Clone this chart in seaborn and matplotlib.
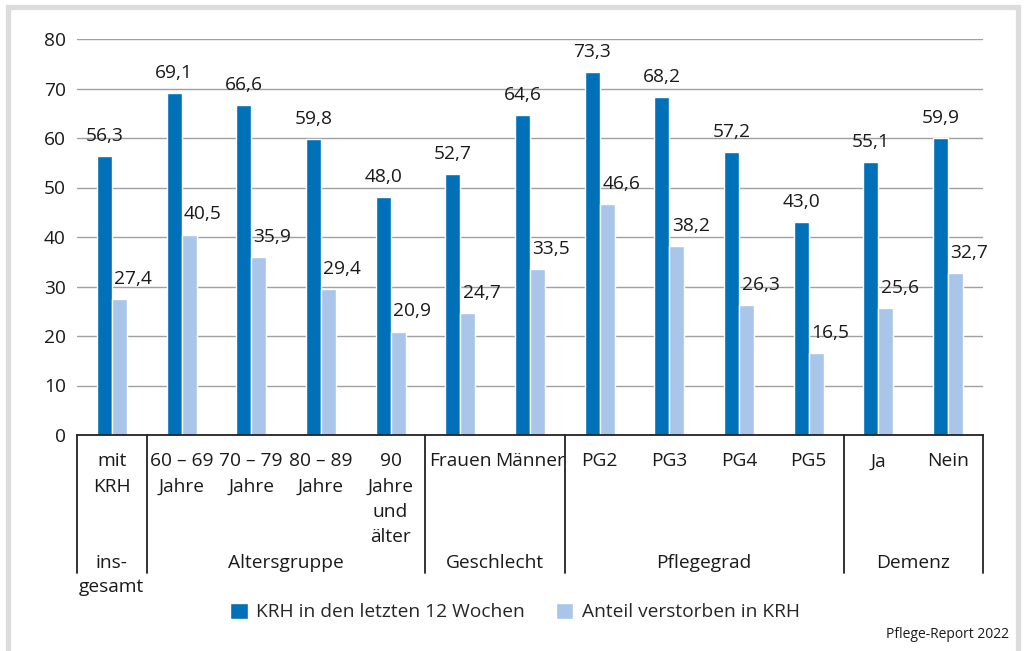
import pandas as pd
import matplotlib.pyplot as plt
import seaborn as sns
from matplotlib.patches import Rectangle

# Data
categories = ['mit\nKRH', '60 – 69\nJahre', '70 – 79\nJahre', '80 – 89\nJahre', '90\nJahre\nund\nälter',
              'Frauen', 'Männer', 'PG2', 'PG3', 'PG4', 'PG5', 'Ja', 'Nein']
krh_12_wochen = [56.3, 69.1, 66.6, 59.8, 48.0, 52.7, 64.6, 73.3, 68.2, 57.2, 43.0, 55.1, 59.9]
verstorben_krh = [27.4, 40.5, 35.9, 29.4, 20.9, 24.7, 33.5, 46.6, 38.2, 26.3, 16.5, 25.6, 32.7]
series_names = ['KRH in den letzten 12 Wochen', 'Anteil verstorben in KRH']
groups = ['ins-\ngesamt', 'Altersgruppe', 'Geschlecht', 'Pflegegrad', 'Demenz']
group_sizes = [1, 4, 2, 4, 2]

df = pd.DataFrame({
    'Kategorie': categories * 2,
    'Wert': krh_12_wochen + verstorben_krh,
    'Serie': [series_names[0]] * len(categories) + [series_names[1]] * len(categories),
})

sns.set_style('white')
plt.rcParams['font.family'] = ['Open Sans', 'DejaVu Sans']
FS = 13.8
DARK = '#0071b9'
LIGHT = '#a9c5e9'

fig = plt.figure(figsize=(10.24, 6.51), dpi=100)
ax = fig.add_axes([77 / 1024, 1 - 435 / 651, (983 - 77) / 1024, (435 - 39) / 651])

sns.barplot(data=df, x='Kategorie', y='Wert', hue='Serie', ax=ax,
            palette={series_names[0]: DARK, series_names[1]: LIGHT},
            width=0.43, gap=0, dodge=True, legend=True, saturation=1)

ax.set_ylim(0, 80)
ax.set_xlim(-0.5, len(categories) - 0.5)
ax.set_yticks(range(0, 81, 10))
ax.yaxis.grid(True, color='#a0a0a0', lw=1)
ax.set_axisbelow(True)
for s in ['left', 'right', 'top']:
    ax.spines[s].set_visible(False)
ax.spines['bottom'].set_color('#222222')
ax.spines['bottom'].set_linewidth(1.3)
ax.tick_params(axis='y', length=0, pad=8, labelsize=FS, labelcolor='#1a1a1a')
ax.set_xticks([])
ax.set_xlabel('')
ax.set_ylabel('')

# value labels
for idx, cont in enumerate(ax.containers):
    dx = 0 if idx == 0 else 10
    for bar in cont:
        h = bar.get_height()
        ax.annotate(f'{h:.1f}'.replace('.', ','), xy=(bar.get_x() + bar.get_width() / 2, h),
                    xytext=(dx, 8), textcoords='offset points', ha='center', va='bottom',
                    fontsize=FS, color='#1a1a1a')

# category labels
trans = ax.get_xaxis_transform()
for i, lab in enumerate(categories):
    ax.annotate(lab, xy=(i, 0), xycoords=trans, xytext=(0, -12.5), textcoords='offset points',
                ha='center', va='top', fontsize=FS, linespacing=1.52, color='#1a1a1a')

# group labels and separators
sep_depth = 138 / 396
start = -0.5
ax.plot([start, start], [0, -sep_depth], transform=trans, color='#222222', lw=1.3, clip_on=False)
for g, n in zip(groups, group_sizes):
    end = start + n
    ax.plot([end, end], [0, -sep_depth], transform=trans, color='#222222', lw=1.3, clip_on=False)
    ax.annotate(g, xy=((start + end) / 2, 0), xycoords=trans, xytext=(0, -85.5), textcoords='offset points',
                ha='center', va='top', fontsize=FS, linespacing=1.45, color='#1a1a1a')
    start = end

# legend
handles, labels = ax.get_legend_handles_labels()
ax.legend_.remove()
fig.legend(handles, labels, loc='center', bbox_to_anchor=(0.503, 1 - 612 / 651), ncol=2,
           frameon=False, fontsize=FS, handlelength=0.9, handleheight=0.9,
           handletextpad=0.45, columnspacing=1.6)

fig.text(1009 / 1024, 1 - 634 / 651, 'Pflege-Report 2022', ha='right', va='center',
         fontsize=10, color='#1a1a1a')

# outer frame
fig.add_artist(Rectangle((8 / 1024, -0.05), (1018 - 8) / 1024, 1.05 - 6.5 / 651,
                         transform=fig.transFigure, fill=False, edgecolor='#dcdcdc', lw=3.8))

fig.savefig('out.png', dpi=100)
